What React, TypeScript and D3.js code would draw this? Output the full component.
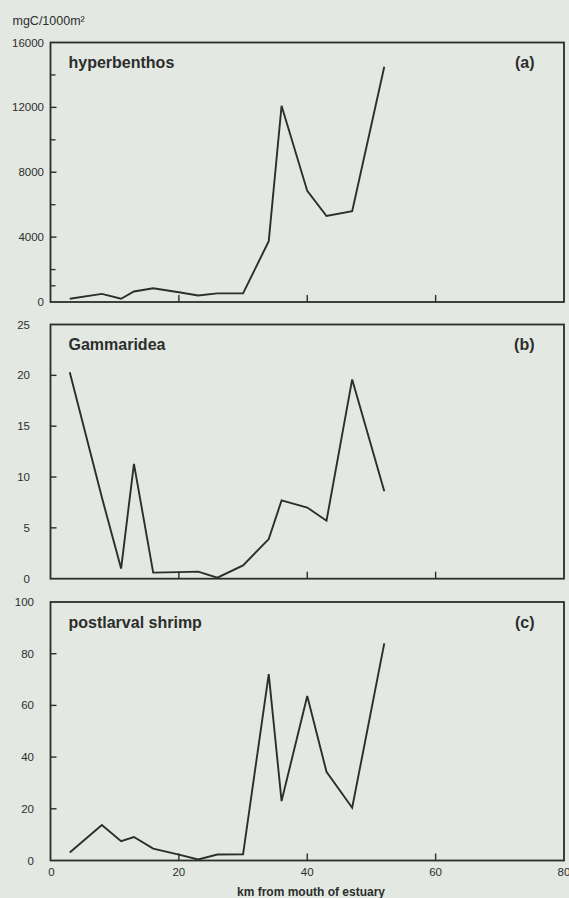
import React from "react";
import * as d3 from "d3";

// Stations (km from mouth of estuary)
const stationKm = [3, 8, 11, 13, 16, 20, 23, 26, 30, 34, 36, 40, 43, 47, 52];
// Series values
const hyperbenthos = [200, 500, 200, 650, 850, 600, 400, 530, 530, 3750, 12100, 6850, 5300, 5600, 14500];
const gammaridea = [20.3, 8.0, 1.0, 11.3, 0.6, 0.65, 0.7, 0.1, 1.3, 3.9, 7.7, 7.0, 5.7, 19.6, 8.6];
const shrimp = [3.1, 13.7, 7.5, 9.1, 4.6, 2.3, 0.4, 2.3, 2.4, 72.1, 23.0, 63.6, 34.3, 20.4, 84.0];

// Tick labels
const xTicks = [0, 20, 40, 60, 80];
const xInnerTicks = [20, 40, 60];
const ticksA = [0, 4000, 8000, 12000, 16000];
const minorA = [1000, 2000, 6000, 10000, 14000];
const ticksB = [0, 5, 10, 15, 20, 25];
const ticksC = [0, 20, 40, 60, 80, 100];

const W = 569;
const H = 898;
const BG = "#e3e8e3";
const INK = "#2c2e2c";
const FONT = "'Liberation Sans', Arial, Helvetica, sans-serif";

const x = d3.scaleLinear().domain([0, 80]).range([50.5, 564]);

type PanelProps = {
  values: number[];
  max: number;
  top: number;
  bottom: number;
  ticks: number[];
  minor?: number[];
  labelRight: number;
  title: string;
  tag: string;
  showXLabels?: boolean;
};

function Panel({ values, max, top, bottom, ticks, minor = [], labelRight, title, tag, showXLabels }: PanelProps) {
  const y = d3.scaleLinear().domain([0, max]).range([bottom, top]);
  const line = d3
    .line<number>()
    .x((_, i) => x(stationKm[i]))
    .y((v) => y(v));
  const x0 = x(0);
  const x1 = x(80);
  return (
    <g>
      <rect x={x0} y={top} width={x1 - x0} height={bottom - top} fill="none" stroke={INK} strokeWidth={1.8} />
      {ticks.map((t) => (
        <g key={"t" + t}>
          {t > 0 && t < max && <line x1={x0} x2={x0 + 6} y1={y(t)} y2={y(t)} stroke={INK} strokeWidth={1.4} />}
          <text
            x={labelRight}
            y={y(t)}
            textAnchor="end"
            dominantBaseline="central"
            fontSize={11.5}
            fontFamily={FONT}
            fill={INK}
          >
            {t}
          </text>
        </g>
      ))}
      {minor.map((t) => (
        <line key={"m" + t} x1={x0} x2={x0 + 5} y1={y(t)} y2={y(t)} stroke={INK} strokeWidth={1.3} />
      ))}
      {xInnerTicks.map((t) => (
        <line key={"x" + t} x1={x(t)} x2={x(t)} y1={bottom} y2={bottom - 7} stroke={INK} strokeWidth={1.4} />
      ))}
      {showXLabels &&
        xTicks.map((t) => (
          <text
            key={"xl" + t}
            x={x(t) + (t === 0 ? 1 : 0)}
            y={bottom + 11}
            textAnchor="middle"
            dominantBaseline="central"
            fontSize={11.5}
            fontFamily={FONT}
            fill={INK}
          >
            {t}
          </text>
        ))}
      <path d={line(values) || ""} fill="none" stroke={INK} strokeWidth={1.9} strokeLinejoin="miter" />
      <text x={68.5} y={top + 25.5} fontSize={16} fontWeight="bold" fontFamily={FONT} fill={INK}>
        {title}
      </text>
      <text x={534.5} y={top + 25.5} textAnchor="end" fontSize={16} fontWeight="bold" fontFamily={FONT} fill={INK}>
        {tag}
      </text>
    </g>
  );
}

export default function App() {
  return (
    <svg
      width={W}
      height={H}
      viewBox={`0 0 ${W} ${H}`}
      style={{ position: "absolute", left: 0, top: 0, display: "block" }}
    >
      <rect x={0} y={0} width={W} height={H} fill={BG} />
      <text x={12.5} y={24.5} fontSize={12.5} fontFamily={FONT} fill={INK}>
        mgC/1000m²
      </text>
      <Panel
        values={hyperbenthos}
        max={16000}
        top={42.5}
        bottom={302}
        ticks={ticksA}
        minor={minorA}
        labelRight={44}
        title="hyperbenthos"
        tag="(a)"
      />
      <Panel
        values={gammaridea}
        max={25}
        top={324.5}
        bottom={578.7}
        ticks={ticksB}
        labelRight={30}
        title="Gammaridea"
        tag="(b)"
      />
      <Panel
        values={shrimp}
        max={100}
        top={602}
        bottom={860.5}
        ticks={ticksC}
        labelRight={34}
        title="postlarval shrimp"
        tag="(c)"
        showXLabels
      />
      <text
        x={311}
        y={896}
        textAnchor="middle"
        fontSize={12}
        fontWeight="bold"
        fontFamily={FONT}
        fill={INK}
      >
        km from mouth of estuary
      </text>
    </svg>
  );
}
